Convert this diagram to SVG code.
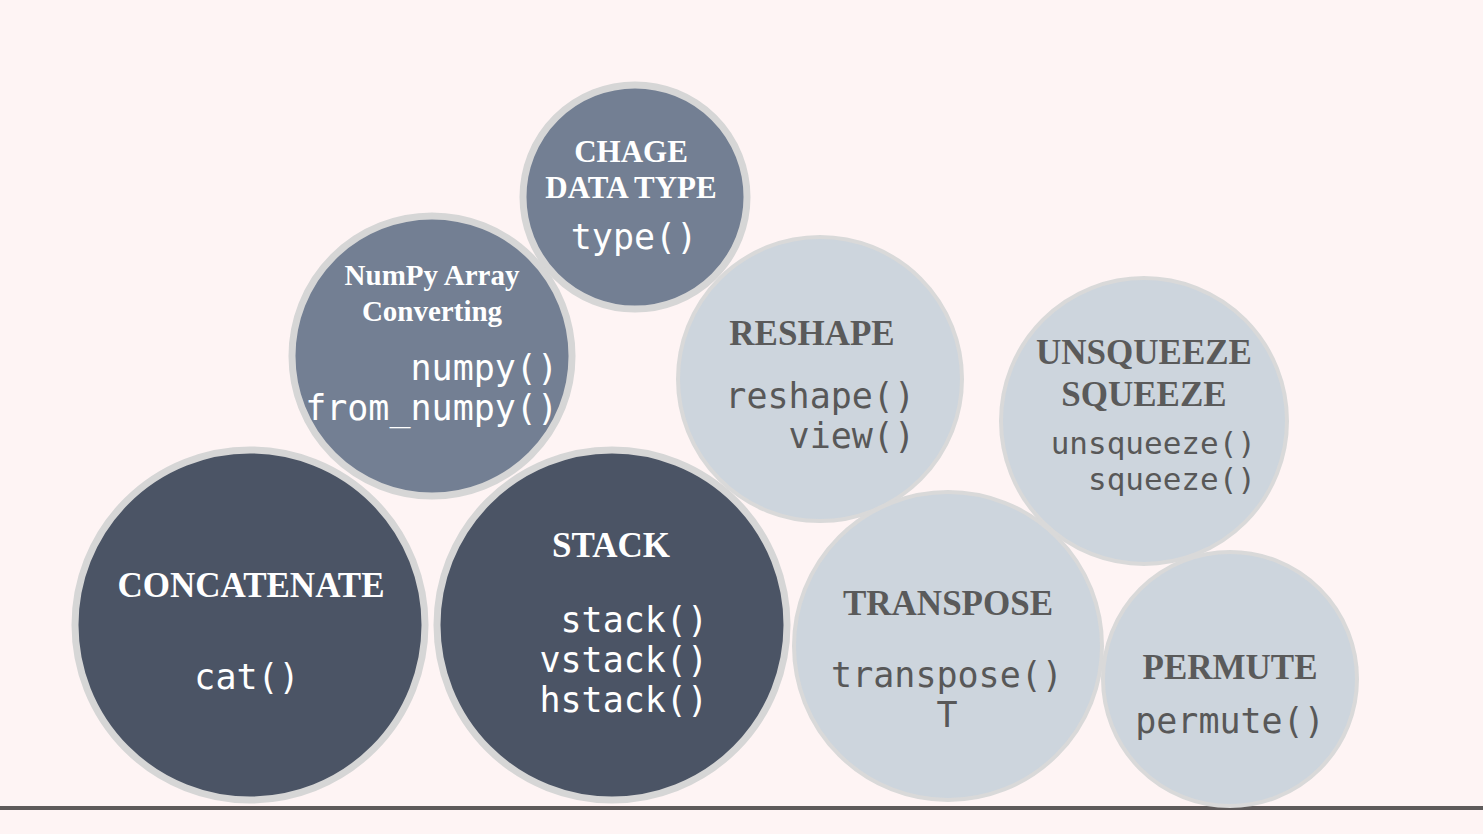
<svg xmlns="http://www.w3.org/2000/svg" width="1483" height="834" viewBox="0 0 1483 834">
<style>
.dark{fill:#4b5465;stroke:#d6d6d6;stroke-width:7}
.mid{fill:#737f93;stroke:#d6d6d6;stroke-width:7}
.light{fill:#cdd5dd;stroke:#d9d9d9;stroke-width:4}
.h{font-family:"Liberation Serif","Times New Roman",serif;font-weight:bold;text-anchor:middle}
.hw{fill:#ffffff}
.hg{fill:#5a5a5a}
.c{font-family:"DejaVu Sans Mono",monospace;font-size:35px}
.cs{font-size:31px}
.cw{fill:#ffffff}
.cg{fill:#585858}
.m{text-anchor:middle}
.e{text-anchor:end}
</style>
<rect x="0" y="0" width="1483" height="834" fill="#fef4f4"/>
<g id="connectors">
<line x1="0" y1="808" x2="1483" y2="808" stroke="#5e5a5a" stroke-width="4"/>
</g>
<g id="node-reshape">
<circle class="light" cx="820" cy="379" r="142"/>
<text class="h hg" x="812" y="345" font-size="35">RESHAPE</text>
<text class="c cg e" x="915" y="408">reshape()</text>
<text class="c cg e" x="915" y="448">view()</text>
</g>
<g id="node-unsqueeze">
<circle class="light" cx="1144" cy="421" r="143"/>
<text class="h hg" x="1144" y="364" font-size="35">UNSQUEEZE</text>
<text class="h hg" x="1144" y="406" font-size="35">SQUEEZE</text>
<text class="c cs cg e" x="1256" y="454">unsqueeze()</text>
<text class="c cs cg e" x="1256" y="490">squeeze()</text>
</g>
<g id="node-transpose">
<circle class="light" cx="948" cy="646" r="154"/>
<text class="h hg" x="948" y="615" font-size="35">TRANSPOSE</text>
<text class="c cg m" x="947" y="687">transpose()</text>
<text class="c cg m" x="947" y="727">T</text>
</g>
<g id="node-permute">
<circle class="light" cx="1230" cy="679" r="127"/>
<text class="h hg" x="1230" y="679" font-size="35">PERMUTE</text>
<text class="c cg m" x="1230" y="733">permute()</text>
</g>
<g id="node-chage">
<circle class="mid" cx="635" cy="197" r="112"/>
<text class="h hw" x="631" y="162" font-size="31">CHAGE</text>
<text class="h hw" x="631" y="198" font-size="31">DATA TYPE</text>
<text class="c cw m" x="634" y="249">type()</text>
</g>
<g id="node-numpy">
<circle class="mid" cx="432" cy="356" r="140"/>
<text class="h hw" x="432" y="285" font-size="29">NumPy Array</text>
<text class="h hw" x="432" y="321" font-size="29">Converting</text>
<text class="c cw e" x="558" y="380">numpy()</text>
<text class="c cw e" x="558" y="420">from_numpy()</text>
</g>
<g id="node-concatenate">
<circle class="dark" cx="250" cy="625" r="175"/>
<text class="h hw" x="251" y="597" font-size="35">CONCATENATE</text>
<text class="c cw m" x="247" y="689">cat()</text>
</g>
<g id="node-stack">
<circle class="dark" cx="612" cy="625" r="175"/>
<text class="h hw" x="611" y="557" font-size="35">STACK</text>
<text class="c cw e" x="708" y="632">stack()</text>
<text class="c cw e" x="708" y="672">vstack()</text>
<text class="c cw e" x="708" y="712">hstack()</text>
</g>
</svg>
